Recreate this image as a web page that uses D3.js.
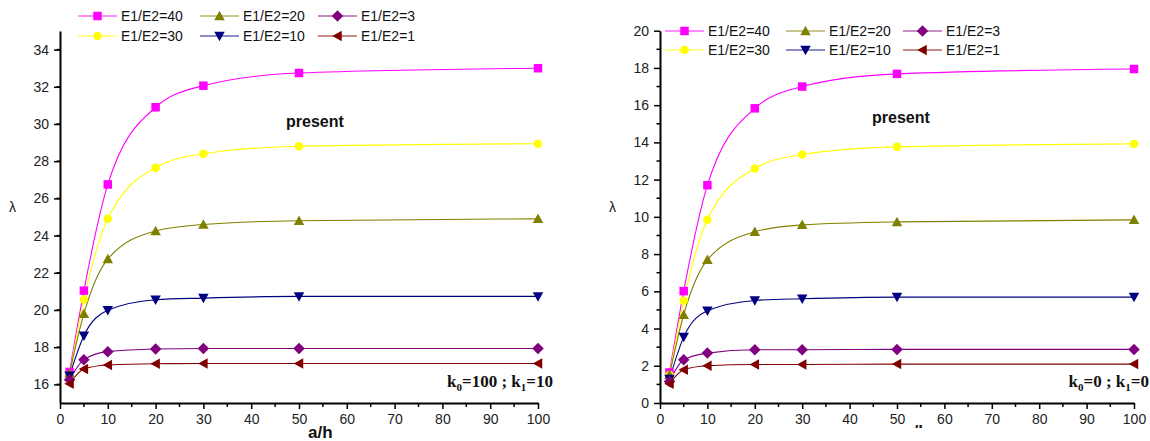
<!DOCTYPE html>
<html>
<head>
<meta charset="utf-8">
<script src="https://cdn.jsdelivr.net/npm/d3@7"></script>
<style>
  body { margin: 0; background: #fff; }
  svg { font-family: Arial, "Liberation Sans", sans-serif; }
  .axis path, .axis line { stroke: #000; }
  .axis path { stroke-width: 2; }
  .axis .tick line { stroke-width: 1.5; }
  .axis text { font-size: 14px; fill: #222; }
</style>
</head>
<body>
<div id="chart"></div>
<script>
const W = 1150, H = 441;

// shared categories
const aOverH = [2, 5, 10, 20, 30, 50, 100];
const seriesNames = ['E1/E2=40', 'E1/E2=30', 'E1/E2=20', 'E1/E2=10', 'E1/E2=3', 'E1/E2=1'];
const seriesColors = ['#ff00ff', '#ffff00', '#808000', '#000080', '#800080', '#800000'];
const seriesSymbols = ['square', 'circle', 'triUp', 'triDown', 'diamond', 'triLeft'];
const xTicks = [0, 10, 20, 30, 40, 50, 60, 70, 80, 90, 100];

// left panel: k0=100 ; k1=10
const leftValues = [
    [16.67, 21.04, 26.75, 30.9, 32.06, 32.74, 33.0],
    [16.5, 20.56, 24.9, 27.65, 28.4, 28.8, 28.94],
    [16.6, 19.8, 22.74, 24.25, 24.6, 24.8, 24.9],
    [16.47, 18.62, 19.98, 20.55, 20.64, 20.73, 20.73],
    [16.25, 17.33, 17.76, 17.9, 17.93, 17.93, 17.93],
    [16.04, 16.83, 17.04, 17.11, 17.12, 17.12, 17.12]
];
const leftYTicks = [16, 18, 20, 22, 24, 26, 28, 30, 32, 34];

// right panel: k0=0 ; k1=0
const rightValues = [
    [1.64, 6.01, 11.7, 15.83, 17.0, 17.68, 17.94],
    [1.5, 5.49, 9.84, 12.6, 13.35, 13.76, 13.92],
    [1.52, 4.74, 7.69, 9.2, 9.57, 9.73, 9.84],
    [1.29, 3.54, 4.95, 5.51, 5.6, 5.69, 5.69],
    [1.16, 2.32, 2.68, 2.86, 2.86, 2.88, 2.88],
    [1.04, 1.79, 2.0, 2.07, 2.07, 2.09, 2.09]
];
const rightYTicks = [0, 2, 4, 6, 8, 10, 12, 14, 16, 18, 20];

const svg = d3.select('#chart')
    .append('svg')
    .attr('width', W)
    .attr('height', H);

const defs = svg.append('defs');

function symbolPath (type, s) {
    const h = s / 2;
    switch (type) {
    case 'square': return `M${-h} ${-h}h${s}v${s}h${-s}z`;
    case 'triUp': return `M0 ${-h - 1}L${h + 1} ${h}L${-h - 1} ${h}z`;
    case 'triDown': return `M0 ${h + 1}L${h + 1} ${-h}L${-h - 1} ${-h}z`;
    case 'triLeft': return `M${-h - 1} 0L${h} ${-h - 1}L${h} ${h + 1}z`;
    case 'diamond': return `M0 ${-h - 1.5}L${h + 1.5} 0L0 ${h + 1.5}L${-h - 1.5} 0z`;
    default: return d3.symbol(d3.symbolCircle, Math.PI * h * h)();
    }
}

function drawMarker (g, type, color, cx, cy, size) {
    g.append('path')
        .attr('d', symbolPath(type, size))
        .attr('transform', `translate(${cx},${cy})`)
        .attr('fill', color)
        .attr('stroke', 'none');
}

function drawPanel (cfg) {
    const x = d3.scaleLinear().domain([0, 100]).range([cfg.x0, cfg.x1]);
    const y = d3.scaleLinear().domain(cfg.yDomain).range([403, cfg.yTop]);

    const clipId = 'clip' + cfg.id;
    defs.append('clipPath').attr('id', clipId)
        .append('rect')
        .attr('x', cfg.x0 - 70).attr('y', 0)
        .attr('width', cfg.x1 - cfg.x0 + 100).attr('height', cfg.clipBottom);

    const g = svg.append('g').attr('clip-path', `url(#${clipId})`);

    // minor ticks
    const minorX = d3.range(5, 100, 10);
    const minorY = d3.range(cfg.yDomain[0] + 1, cfg.yDomain[1], 2);

    g.append('g')
        .selectAll('line')
        .data(minorX)
        .join('line')
        .attr('x1', d => x(d)).attr('x2', d => x(d))
        .attr('y1', 403).attr('y2', 407)
        .attr('stroke', '#000').attr('stroke-width', 1.5);

    g.append('g')
        .selectAll('line')
        .data(minorY)
        .join('line')
        .attr('x1', cfg.x0 - 3.5).attr('x2', cfg.x0)
        .attr('y1', d => y(d)).attr('y2', d => y(d))
        .attr('stroke', '#000').attr('stroke-width', 1.5);

    g.append('g')
        .attr('class', 'axis')
        .attr('transform', 'translate(0,403)')
        .call(d3.axisBottom(x).tickValues(xTicks).tickSize(6).tickSizeOuter(0).tickPadding(5));

    g.append('g')
        .attr('class', 'axis')
        .attr('transform', `translate(${cfg.x0},0)`)
        .call(d3.axisLeft(y).tickValues(cfg.yTicks).tickSize(6).tickSizeOuter(0).tickPadding(5));

    // curves
    const line = d3.line()
        .x((d, i) => x(aOverH[i]))
        .y(d => y(d))
        .curve(d3.curveMonotoneX);

    cfg.values.forEach((vals, si) => {
        g.append('path')
            .datum(vals)
            .attr('d', line)
            .attr('fill', 'none')
            .attr('stroke', seriesColors[si])
            .attr('stroke-width', 1.1);
    });
    cfg.values.forEach((vals, si) => {
        const mg = g.append('g');
        vals.forEach((v, i) => drawMarker(mg, seriesSymbols[si], seriesColors[si], x(aOverH[i]), y(v), 8.5));
    });

    // legend
    const lg = svg.append('g');
    seriesNames.forEach((name, i) => {
        const col = Math.floor(i / 2);
        const row = i % 2;
        const lx = cfg.legendX[col];
        const ly = cfg.legendY[row];
        lg.append('line')
            .attr('x1', lx).attr('x2', lx + 39)
            .attr('y1', ly).attr('y2', ly)
            .attr('stroke', seriesColors[i])
            .attr('stroke-opacity', 0.6)
            .attr('stroke-width', 1.5);
        drawMarker(lg, seriesSymbols[i], seriesColors[i], lx + 19.5, ly, 8.5);
        lg.append('text')
            .attr('x', lx + 43).attr('y', ly)
            .attr('dy', '0.36em')
            .attr('font-size', 14)
            .attr('fill', '#111')
            .text(name);
    });

    // labels
    g.append('text')
        .attr('x', cfg.x0 - 51).attr('y', 212)
        .attr('font-size', 14)
        .attr('fill', '#222')
        .text('λ');

    g.append('text')
        .attr('x', cfg.presentX).attr('y', cfg.presentY)
        .attr('font-size', 16)
        .attr('font-weight', 'bold')
        .attr('fill', '#111')
        .text('present');

    g.append('text')
        .attr('x', cfg.ahX).attr('y', cfg.ahY)
        .attr('font-size', 17)
        .attr('font-weight', 'bold')
        .attr('fill', '#111')
        .text('a/h');

    const k = g.append('text')
        .attr('x', cfg.x1 + 15).attr('y', 387)
        .attr('text-anchor', 'end')
        .attr('font-family', '"Liberation Serif", "Times New Roman", serif')
        .attr('font-size', 17)
        .attr('font-weight', 'bold')
        .attr('fill', '#111');
    k.append('tspan').text('k');
    k.append('tspan').attr('font-size', 11).attr('dy', 4).text('0');
    k.append('tspan').attr('dy', -4).text(`=${cfg.k0} ; k`);
    k.append('tspan').attr('font-size', 11).attr('dy', 4).text('1');
    k.append('tspan').attr('dy', -4).text(`=${cfg.k1}`);
}

drawPanel({
    id: 'L', x0: 60, x1: 538, yDomain: [15, 35], yTop: 31,
    yTicks: leftYTicks, values: leftValues,
    legendX: [78, 200, 318], legendY: [16, 36],
    presentX: 286, presentY: 127, ahX: 308, ahY: 438, clipBottom: 441,
    k0: 100, k1: 10
});

drawPanel({
    id: 'R', x0: 660, x1: 1134, yDomain: [0, 20], yTop: 30.7,
    yTicks: rightYTicks, values: rightValues,
    legendX: [665, 786, 903], legendY: [31, 50],
    presentX: 872, presentY: 123, ahX: 904, ahY: 437, clipBottom: 428,
    k0: 0, k1: 0
});
</script>
</body>
</html>
